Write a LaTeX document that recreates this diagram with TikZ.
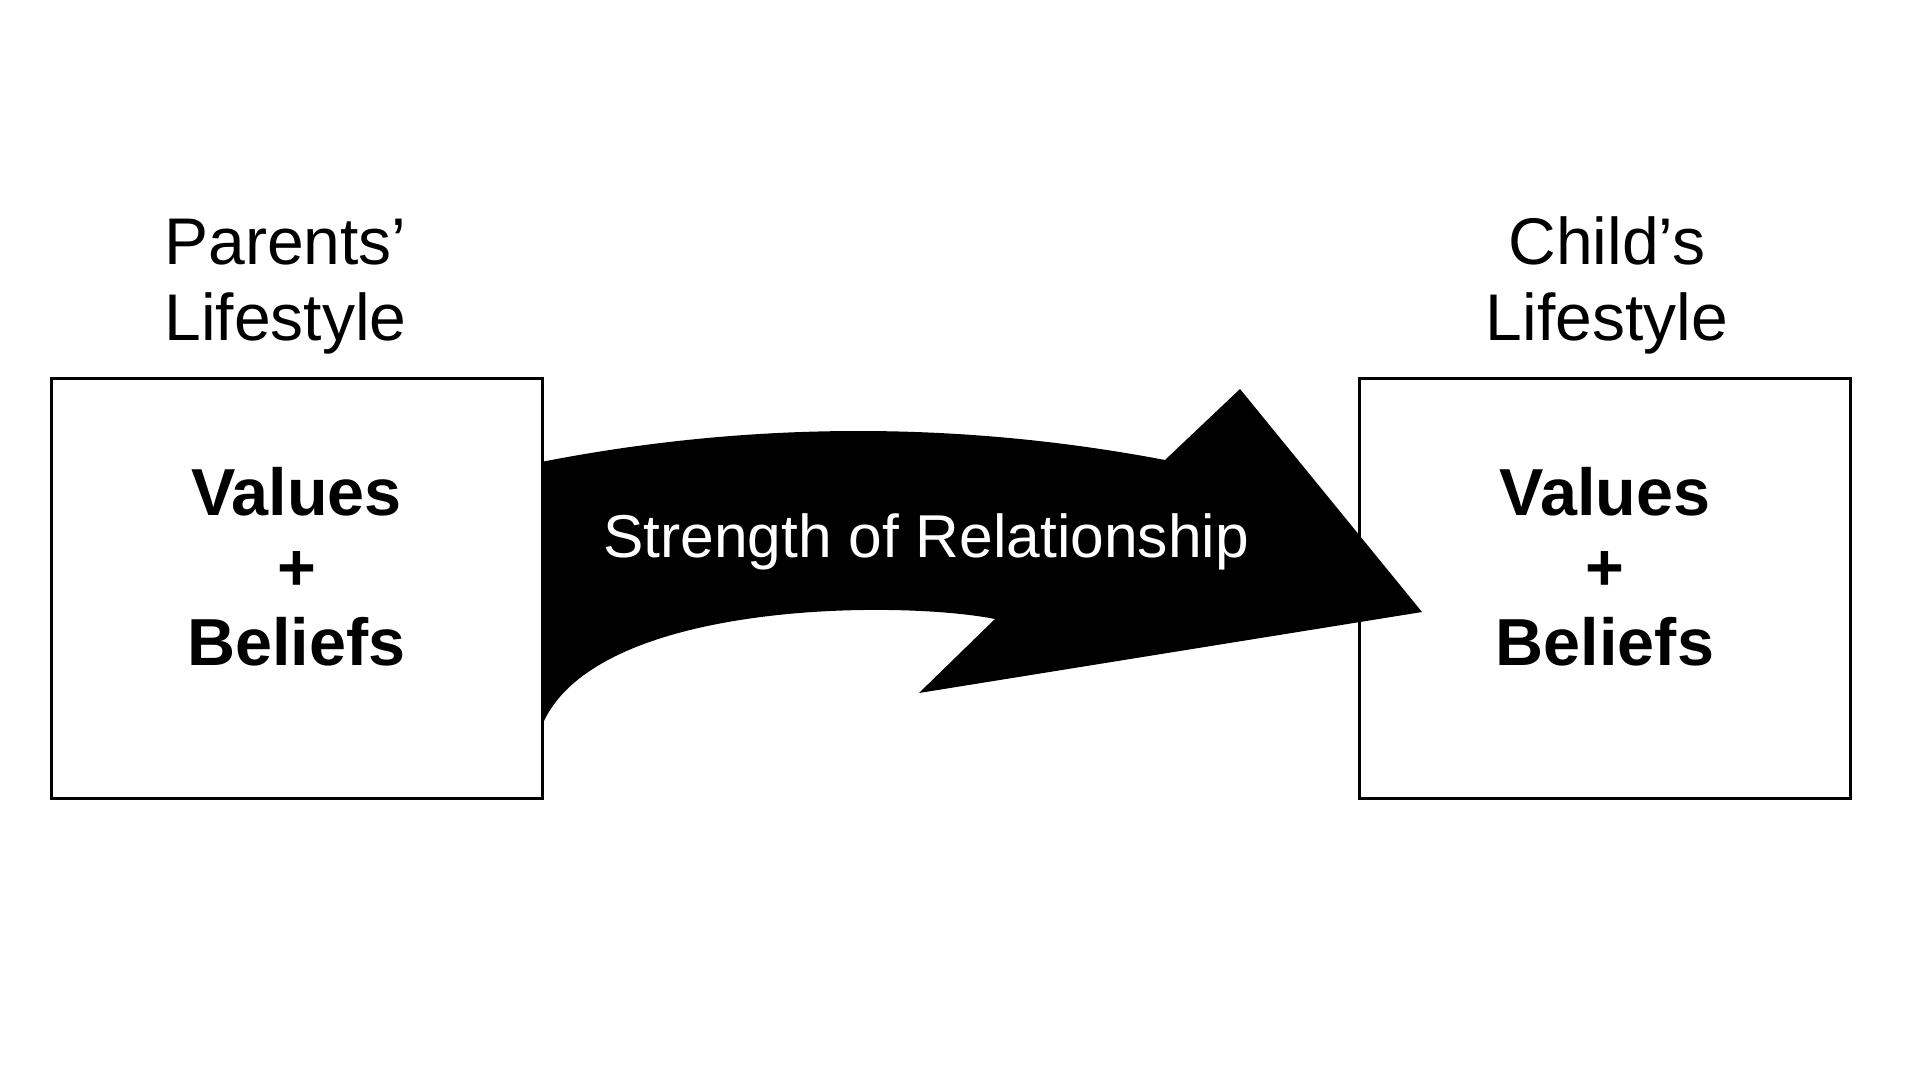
\documentclass[tikz,border=0pt]{standalone}
\usepackage{fontspec}
\setmainfont{Liberation Sans}
\usepackage{tikz}
\usetikzlibrary{positioning}

\begin{document}
\begin{tikzpicture}[
  x=1pt, y=-1pt,
  node distance=22pt,
  lifebox/.style={draw, line width=3pt, minimum width=491pt, minimum height=420pt, inner sep=0pt},
  heading/.style={align=center, inner sep=0pt, font=\fontsize{66}{76}\selectfont},
  vals/.style={align=center, inner sep=0pt, font=\fontsize{66.5}{75}\selectfont\bfseries},
  banner/.style={text=white, inner sep=0pt, font=\fontsize{60.5}{72}\selectfont}
]
\useasboundingbox (0,0) rectangle (1920,1080);

% curved arrow first, the boxes are drawn on top of it
\fill (541,462) .. controls (750,421) and (960,421) .. (1165,460)
  -- (1240,389) -- (1422,612) -- (919,693) -- (995,619)
  .. controls (900,600) and (590,600) .. (541,728) -- cycle;
\node[banner, anchor=base] (strength) at (926,557) {Strength of Relationship};

\node[lifebox] (pbox) at (296.5,588) {};
\node[lifebox] (cbox) at (1605,588) {};

\node[heading, above=of pbox, xshift=-11pt] (parents) {Parents’\\Lifestyle};
\node[heading, above=of cbox, xshift=2pt] (child) {Child’s\\Lifestyle};

\node[vals] (pvals) at ([yshift=21pt]pbox.center) {Values\\+\\Beliefs};
\node[vals] (cvals) at ([yshift=21pt]cbox.center) {Values\\+\\Beliefs};
\end{tikzpicture}
\end{document}
